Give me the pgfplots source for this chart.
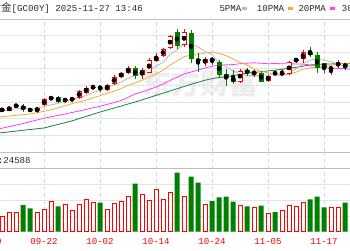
\documentclass[border=0pt]{standalone}
\usepackage{pgfplots}
\pgfplotsset{compat=1.18}
\usepackage{pgfplotstable}
\usepackage{fontspec}
\setmonofont{Liberation Mono}
\newfontfamily\cjk{Noto Sans CJK SC}
\definecolor{upred}{RGB}{255,0,0}
\definecolor{dngreen}{RGB}{0,128,0}
\definecolor{ma5c}{RGB}{185,185,185}
\definecolor{ma10c}{RGB}{245,170,50}
\definecolor{ma20c}{RGB}{255,60,255}
\definecolor{ma30c}{RGB}{30,125,70}
\definecolor{txt}{RGB}{40,40,40}

% rising candles: index, open, high, low, close
\pgfplotstableread{
i o h l c
0 3672 3695 3658 3683
1 3670 3713 3665 3701
2 3710 3728 3701 3719
5 3665 3701 3652 3695
6 3719 3782 3713 3773
7 3773 3805 3764 3791
9 3758 3785 3746 3773
10 3764 3796 3751 3782
11 3782 3857 3776 3851
12 3834 3893 3821 3875
13 3875 3902 3866 3887
15 3857 3911 3848 3902
16 3908 3992 3899 3977
17 3977 4019 3962 4008
18 4008 4073 3999 4058
20 3992 4058 3953 4037
21 4013 4143 4008 4127
22 4121 4188 4107 4157
23 4164 4233 4157 4224
24 4233 4356 4224 4344
26 4263 4404 4247 4383
29 4103 4152 4076 4134
34 3932 4044 3923 4031
36 4001 4037 3977 4022
38 3941 3992 3932 3983
40 4001 4044 3983 4013
41 3999 4121 3992 4112
42 4121 4148 4103 4134
43 4134 4218 4098 4202
47 4046 4067 3992 4058
48 4082 4127 4053 4098
}\upc
% falling candles
\pgfplotstableread{
i o h l c
3 3713 3728 3661 3683
4 3683 3695 3656 3670
8 3791 3803 3737 3749
14 3884 3902 3842 3872
19 4053 4073 3953 3983
25 4383 4404 4224 4254
27 4374 4398 4098 4134
28 4134 4188 4022 4116
30 4136 4157 4082 4125
31 4109 4123 3977 3992
32 3999 4044 3896 3962
33 3968 4037 3911 3932
35 4037 4058 3983 4008
37 4008 4031 3925 3932
39 4013 4037 3983 4001
44 4202 4247 4152 4173
45 4173 4202 4008 4058
46 4098 4103 4008 4055
49 4091 4103 4037 4067
}\dnc
% moving averages
\pgfplotstableread{
i ma5 ma10 ma20 ma30
-1 3665 3610 3498 3465
0 3668 3616 3512 3472
1 3678 3622 3526 3479
2 3688 3628 3540 3486
3 3693 3634 3554 3493
4 3691 3640 3570 3500
5 3694 3652 3586 3507
6 3708 3664 3602 3514
7 3722 3678 3615 3530
8 3736 3695 3628 3546
9 3756 3715 3640 3562
10 3774 3734 3654 3578
11 3789 3749 3667 3598
12 3806 3764 3681 3618
13 3834 3785 3696 3638
14 3853 3805 3711 3658
15 3877 3826 3726 3676
16 3903 3846 3744 3694
17 3929 3868 3762 3712
18 3963 3899 3790 3730
19 3986 3920 3822 3748
20 4013 3945 3839 3768
21 4043 3973 3861 3788
22 4072 4001 3883 3808
23 4106 4035 3910 3828
24 4178 4082 3943 3848
25 4221 4117 3971 3868
26 4272 4158 4002 3888
27 4268 4170 4019 3908
28 4246 4176 4037 3927
29 4204 4191 4055 3945
30 4178 4200 4072 3959
31 4100 4186 4079 3969
32 4066 4167 4084 3977
33 4029 4138 4086 3986
34 4008 4106 4094 3998
35 3985 4082 4099 4008
36 3991 4046 4102 4016
37 3985 4025 4098 4021
38 3995 4012 4094 4029
39 3989 3999 4095 4036
40 3990 3988 4094 4044
41 4008 4000 4093 4053
42 4049 4017 4092 4061
43 4092 4044 4091 4072
44 4127 4058 4082 4082
45 4136 4063 4072 4087
46 4126 4067 4056 4090
47 4111 4080 4053 4092
48 4090 4091 4052 4093
49 4069 4098 4048 4096
50 4065 4098 4046 4097
}\mas
% volume
\pgfplotstableread{
i v
0 98100
1 121500
2 121500
5 121500
6 140500
7 191100
9 169600
10 134200
11 169600
12 201300
13 186700
15 140500
16 180400
17 191100
18 220200
20 232900
21 199400
22 267100
23 203800
24 245600
26 220200
29 174000
34 163300
36 150600
38 112700
40 134200
41 163300
42 159500
43 186700
47 153200
48 153200
}\volup
\pgfplotstableread{
i v
3 167700
4 146800
8 159500
14 182300
19 302500
25 372100
27 346800
28 308900
30 193000
31 216500
32 220200
33 188600
35 159500
37 163300
39 123400
44 203800
45 220200
46 153200
49 182300
}\voldn

\newcommand{\mono}{\ttfamily\fontsize{9.1}{9.1}\selectfont}

\begin{document}
\begin{tikzpicture}[x=1pt,y=1pt]
\path[use as bounding box] (0,0) rectangle (350,250);
\begin{scope}[overlay]
\clip (0,0) rectangle (350,250);
% watermark
\node[text=black!7, font=\cjk\bfseries\fontsize{29}{29}\selectfont] at (200,167) {东方财富};

% ---- price panel ----
\begin{axis}[
  at={(0pt,98.3pt)}, anchor=south west, scale only axis,
  width=350pt, height=133pt,
  xmin=-0.2857, xmax=49.714, ymin=3300, ymax=4500,
  xtick={6,14,22,30,38,46}, ytick={3300,3450,...,4500},
  xticklabels={}, yticklabels={},
  major tick length=0pt,
  axis line style={draw=none},
  xmajorgrids, ymajorgrids,
  x grid style={gray!32, dash pattern=on 4pt off 3pt},
  y grid style={gray!22},
  extra y ticks={3300,4500}, extra y tick labels={},
  extra y tick style={y grid style={gray!50}},
  clip=true,
]
\addplot[ma30c, line width=0.8pt, mark=none] table[x=i, y=ma30] {\mas};
\addplot[ma20c, line width=0.8pt, mark=none] table[x=i, y=ma20] {\mas};
\addplot[ma10c, line width=0.8pt, mark=none] table[x=i, y=ma10] {\mas};
\addplot[ma5c, line width=0.8pt, mark=none] table[x=i, y=ma5] {\mas};
% wicks
\addplot[only marks, mark=none, error bars/.cd, y dir=both, y explicit, error mark=none,
  error bar style={draw=upred, line width=0.9pt}]
  table[x=i, y expr={(\thisrow{h}+\thisrow{l})/2}, y error expr={(\thisrow{h}-\thisrow{l})/2}] {\upc};
\addplot[only marks, mark=none, error bars/.cd, y dir=both, y explicit, error mark=none,
  error bar style={draw=dngreen, line width=0.9pt}]
  table[x=i, y expr={(\thisrow{h}+\thisrow{l})/2}, y error expr={(\thisrow{h}-\thisrow{l})/2}] {\dnc};
% bodies
\addplot[only marks, mark=none, error bars/.cd, y dir=both, y explicit, error mark=none,
  error bar style={draw=upred, line width=5pt}]
  table[x=i, y expr={(\thisrow{o}+\thisrow{c})/2}, y error expr={max(abs(\thisrow{c}-\thisrow{o})/2,5)}] {\upc};
\addplot[only marks, mark=none, error bars/.cd, y dir=both, y explicit, error mark=none,
  error bar style={draw=white, line width=3.2pt}]
  table[x=i, y expr={(\thisrow{o}+\thisrow{c})/2}, y error expr={max(abs(\thisrow{c}-\thisrow{o})/2-9,0)}] {\upc};
\addplot[only marks, mark=none, error bars/.cd, y dir=both, y explicit, error mark=none,
  error bar style={draw=dngreen, line width=5pt}]
  table[x=i, y expr={(\thisrow{o}+\thisrow{c})/2}, y error expr={max(abs(\thisrow{c}-\thisrow{o})/2,5)}] {\dnc};
\end{axis}

% ---- volume panel ----
\begin{axis}[
  at={(0pt,18.5pt)}, anchor=south west, scale only axis,
  width=350pt, height=79.8pt,
  xmin=-0.2857, xmax=49.714, ymin=0, ymax=505054,
  xtick={6,14,22,30,38,46},
  xticklabels={09-22,10-02,10-14,10-24,11-05,11-17},
  xticklabel style={text=upred, font=\mono, anchor=center, yshift=-9.5pt},
  ytick={0,100000,200000,300000,400000}, yticklabels={},
  scaled y ticks=false,
  major tick length=0pt,
  axis line style={draw=none},
  xmajorgrids, ymajorgrids,
  x grid style={gray!32, dash pattern=on 4pt off 3pt},
  y grid style={gray!22},
  extra y ticks={400000}, extra y tick labels={},
  extra y tick style={y grid style={gray!50}},
  clip=true,
]
\addplot[ybar, bar width=4pt, bar shift=0pt, draw=upred, fill=white, line width=0.9pt] table[x=i, y=v] {\volup};
\addplot[ybar, bar width=5pt, bar shift=0pt, draw=none, fill=dngreen] table[x=i, y=v] {\voldn};
\end{axis}

% partial date label at left edge
\node[text=upred, font=\mono] at (-12,9) {09-10};
% volume caption
\node[anchor=west, inner sep=0pt, text=txt, font=\mono] at (-12.8,90) {{\cjk\fontsize{10.5}{10.5}\selectfont 量}:24588};
% title
\node[anchor=east, inner sep=0pt, text=txt, font=\mono] at (143,241.7) {{\cjk\fontsize{10.5}{10.5}\selectfont 黄金}[GC00Y] 2025-11-27 13:46};
% legend
\node[anchor=west, inner sep=0pt, text=txt, font=\mono] at (219.3,241.7) {5PMA};
\fill[ma5c] (241.7,240) rectangle (246.7,243);
\node[anchor=west, inner sep=0pt, text=txt, font=\mono] at (256.7,241.7) {10PMA};
\fill[ma10c] (288.3,240) rectangle (293.3,243);
\node[anchor=west, inner sep=0pt, text=txt, font=\mono] at (298.3,241.7) {20PMA};
\fill[ma20c] (330,240) rectangle (335,243);
\node[anchor=west, inner sep=0pt, text=txt, font=\mono] at (341.7,241.7) {30PMA};
\end{scope}
\end{tikzpicture}
\end{document}
